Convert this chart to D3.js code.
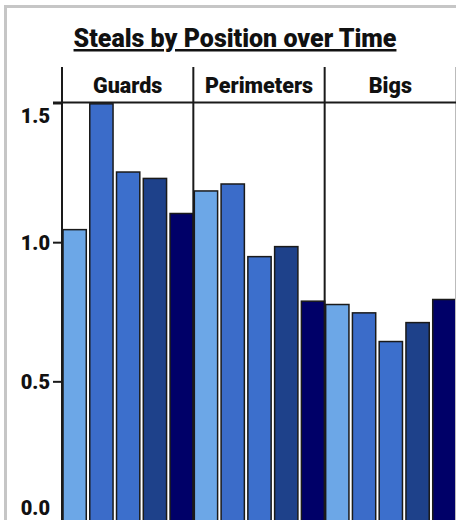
<!DOCTYPE html>
<html>
<head>
<meta charset="utf-8">
<script src="https://cdn.jsdelivr.net/npm/d3@7"></script>
<style>
  body { margin: 0; background: #fff; }
  svg { display: block; font-family: Roboto, "Noto Sans", sans-serif; }
</style>
</head>
<body>
<svg width="456" height="520"></svg>
<script>
const positions = ["Guards", "Perimeters", "Bigs"];
const periods = ["1980s", "1990s", "2000s", "2010s", "2020s"];
const colors = ["#6ca7e7", "#3b6cc9", "#3c6fcc", "#1e418a", "#000068"];

const guards = [1.045, 1.497, 1.252, 1.229, 1.103];
const perimeters = [1.184, 1.209, 0.948, 0.984, 0.788];
const bigs = [0.776, 0.746, 0.643, 0.711, 0.794];

const yTicks = [0, 0.5, 1.0, 1.5];

const svg = d3.select("svg");

const data = [guards, perimeters, bigs].map((vals, i) => ({
  position: positions[i],
  values: vals.map((v, j) => ({period: periods[j], value: v}))
}));

// outer card frame
svg.append("rect")
  .attr("x", 5.5).attr("y", 6.5)
  .attr("width", 600).attr("height", 600)
  .attr("fill", "none")
  .attr("stroke", "#c6c6c6")
  .attr("stroke-width", 3);

svg.append("text")
  .attr("x", 235).attr("y", 47)
  .attr("text-anchor", "middle")
  .attr("font-size", 25)
  .attr("font-weight", 900)
  .attr("fill", "#111")
  .attr("text-decoration", "underline")
  .text("Steals by Position over Time");

const plotTop = 103, plotBottom = 520.5, headerTop = 67;

const fx = d3.scaleBand().domain(positions).range([62, 456]);
const x = d3.scaleBand().domain(periods).range([1, fx.bandwidth()]).paddingInner(0.13).paddingOuter(0);
const y = d3.scaleLinear().domain([0, 1.5]).range([plotBottom, plotTop]);
const color = d3.scaleOrdinal().domain(periods).range(colors);

const panels = svg.selectAll("g.panel")
  .data(data)
  .enter()
    .append("g")
    .attr("class", "panel")
    .attr("transform", d => `translate(${fx(d.position)},0)`);

panels.selectAll("rect")
  .data(d => d.values)
  .enter()
    .append("rect")
    .attr("x", d => x(d.period))
    .attr("y", d => y(d.value))
    .attr("width", x.bandwidth())
    .attr("height", d => y(0) - y(d.value) + 10)
    .attr("fill", d => color(d.period))
    .attr("stroke", "#1a1a1a")
    .attr("stroke-width", 1.5);

panels.append("text")
  .attr("x", fx.bandwidth() / 2)
  .attr("y", 93)
  .attr("text-anchor", "middle")
  .attr("font-size", 21.5)
  .attr("font-weight", 900)
  .attr("fill", "#111")
  .text(d => d.position);

// facet separators
svg.selectAll("line.sep")
  .data(positions)
  .enter()
    .append("line")
    .attr("class", "sep")
    .attr("x1", d => fx(d)).attr("x2", d => fx(d))
    .attr("y1", headerTop).attr("y2", 530)
    .attr("stroke", "#1a1a1a")
    .attr("stroke-width", 2);

svg.append("line")
  .attr("x1", 455.5).attr("x2", 455.5)
  .attr("y1", headerTop).attr("y2", 530)
  .attr("stroke", "#bbb")
  .attr("stroke-width", 1);

// header bottom line, also the 1.5 tick
svg.append("line")
  .attr("x1", 53).attr("x2", 456)
  .attr("y1", plotTop - 0.5).attr("y2", plotTop - 0.5)
  .attr("stroke", "#1a1a1a")
  .attr("stroke-width", 2);

const axis = d3.axisLeft(y)
  .tickValues(yTicks)
  .tickFormat(d3.format(".1f"))
  .tickSize(9)
  .tickPadding(3);

const axisG = svg.append("g")
  .attr("transform", "translate(62,0)")
  .call(axis);

axisG.select(".domain").remove();
axisG.selectAll(".tick line").attr("stroke", "#1a1a1a").attr("stroke-width", 2);
axisG.selectAll(".tick text")
  .attr("font-family", "Roboto, sans-serif")
  .attr("font-size", 20)
  .attr("font-weight", 900)
  .attr("fill", "#111")
  .attr("dy", d => d === 1.5 ? "0.95em" : d === 0 ? "-0.32em" : "0.35em");
</script>
</body>
</html>
